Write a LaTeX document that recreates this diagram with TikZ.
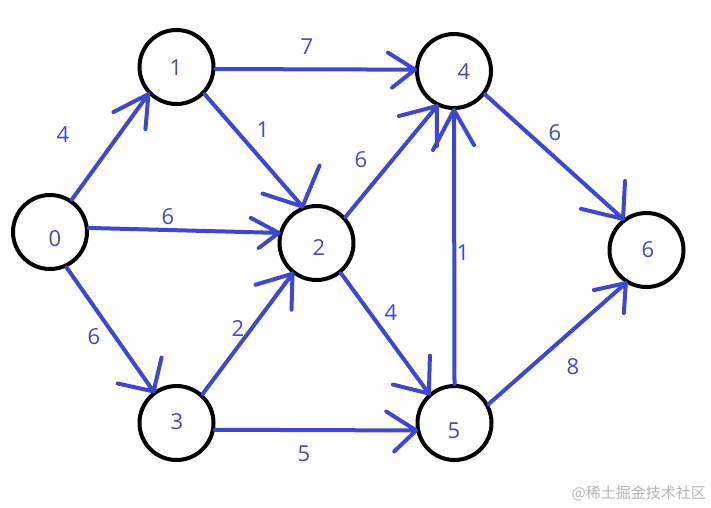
\documentclass[tikz,border=0pt]{standalone}
\usepackage{fontspec}
\setmainfont{Open Sans}
\newfontfamily\cjkfont{Noto Sans CJK SC}
\definecolor{edgeblue}{RGB}{63,72,204}
\definecolor{txtblue}{RGB}{70,72,190}
\definecolor{wmgrey}{RGB}{180,180,180}
\begin{document}
\begin{tikzpicture}[x=1pt,y=-1pt,
  vertex/.style={circle,draw=black,line width=4pt,minimum size=74pt,inner sep=0pt},
  vtext/.style={text=txtblue,font=\fontsize{22pt}{24pt}\selectfont,inner sep=0pt},
  wlabel/.style={text=txtblue,font=\fontsize{22pt}{24pt}\selectfont,inner sep=0pt},
  edge/.style={draw=edgeblue,line width=4pt,line cap=round,line join=round}]
\useasboundingbox (0,0) rectangle (711,507);
\fill[white] (0,0) rectangle (711,507);
% vertices
\node[vertex] (n0) at (50,232) {};
\node[vertex] (n1) at (176.5,67) {};
\node[vertex] (n2) at (316.5,243) {};
\node[vertex] (n3) at (176.5,423) {};
\node[vertex] (n4) at (454,71) {};
\node[vertex] (n5) at (454.5,423) {};
\node[vertex] (n6) at (646.5,250) {};
\node[vtext] (t0) at (55,239) {0};
\node[vtext] (t1) at (176,68) {1};
\node[vtext] (t2) at (319,248) {2};
\node[vtext] (t3) at (177,422) {3};
\node[vtext] (t4) at (464,72) {4};
\node[vtext] (t5) at (454,431) {5};
\node[vtext] (t6) at (648,250) {6};
% edges with hand-drawn arrow wings
\draw[edge] (n0.56) -- (n1.224.5) -- ([shift={(-35,18)}]n1.224.5) (n1.224.5) -- ([shift={(-3,35)}]n1.224.5);
\draw[edge] (n1.357) -- (n4.178.5) -- ([shift={(-27,-17)}]n4.178.5) (n4.178.5) -- ([shift={(-23,18)}]n4.178.5);
\draw[edge] (n1.316.6) -- (n2.111.9) -- ([shift={(17,-41)}]n2.111.9) (n2.111.9) -- ([shift={(-40,-13)}]n2.111.9);
\draw[edge] (n0.6) -- (n2.165.4) -- ([shift={(-28,-15)}]n2.165.4) (n2.165.4) -- ([shift={(-20,15)}]n2.165.4);
\draw[edge] (n2.42.6) -- (n4.244.1) -- ([shift={(-38,10)}]n4.244.1) (n4.244.1) -- ([shift={(0,40)}]n4.244.1);
\draw[edge] (n5.90) -- (n4.270) -- ([shift={(20,35)}]n4.270) (n4.270) -- ([shift={(-21,40)}]n4.270);
\draw[edge] (n4.323.6) -- (n6.127.4) -- ([shift={(-42,-10)}]n6.127.4) (n6.127.4) -- ([shift={(2,-38)}]n6.127.4);
\draw[edge] (n0.295) -- (n3.126.3) -- ([shift={(-36,-8)}]n3.126.3) (n3.126.3) -- ([shift={(8,-34)}]n3.126.3);
\draw[edge] (n3.48.5) -- (n2.232.1) -- ([shift={(-37,11)}]n2.232.1) (n2.232.1) -- ([shift={(-1,36)}]n2.232.1);
\draw[edge] (n3.350.9) -- (n5.191.4) -- ([shift={(-30,-19)}]n5.191.4) (n5.191.4) -- ([shift={(-22,21)}]n5.191.4);
\draw[edge] (n2.309.6) -- (n5.131.2) -- ([shift={(-36,-9)}]n5.131.2) (n5.131.2) -- ([shift={(1,-38)}]n5.131.2);
\draw[edge] (n5.29) -- (n6.238.6) -- ([shift={(-32,7)}]n6.238.6) (n6.238.6) -- ([shift={(-2,30)}]n6.238.6);
% weights
\node[wlabel] (w01) at (63,135) {4};
\node[wlabel] (w14) at (307,47) {7};
\node[wlabel] (w12) at (263,130) {1};
\node[wlabel] (w02) at (168,217) {6};
\node[wlabel] (w24) at (361,160) {6};
\node[wlabel] (w46) at (555,133) {6};
\node[wlabel] (w54) at (463,253) {1};
\node[wlabel] (w03) at (94,337) {6};
\node[wlabel] (w32) at (238,329) {2};
\node[wlabel] (w35) at (304,454) {5};
\node[wlabel] (w25) at (391,313) {4};
\node[wlabel] (w56) at (573,367) {8};
% watermark
\node[anchor=east,text=wmgrey,font=\cjkfont\fontsize{15pt}{17pt}\selectfont,inner sep=0pt] (wm) at (706,493) {@稀土掘金技术社区};
\end{tikzpicture}
\end{document}
